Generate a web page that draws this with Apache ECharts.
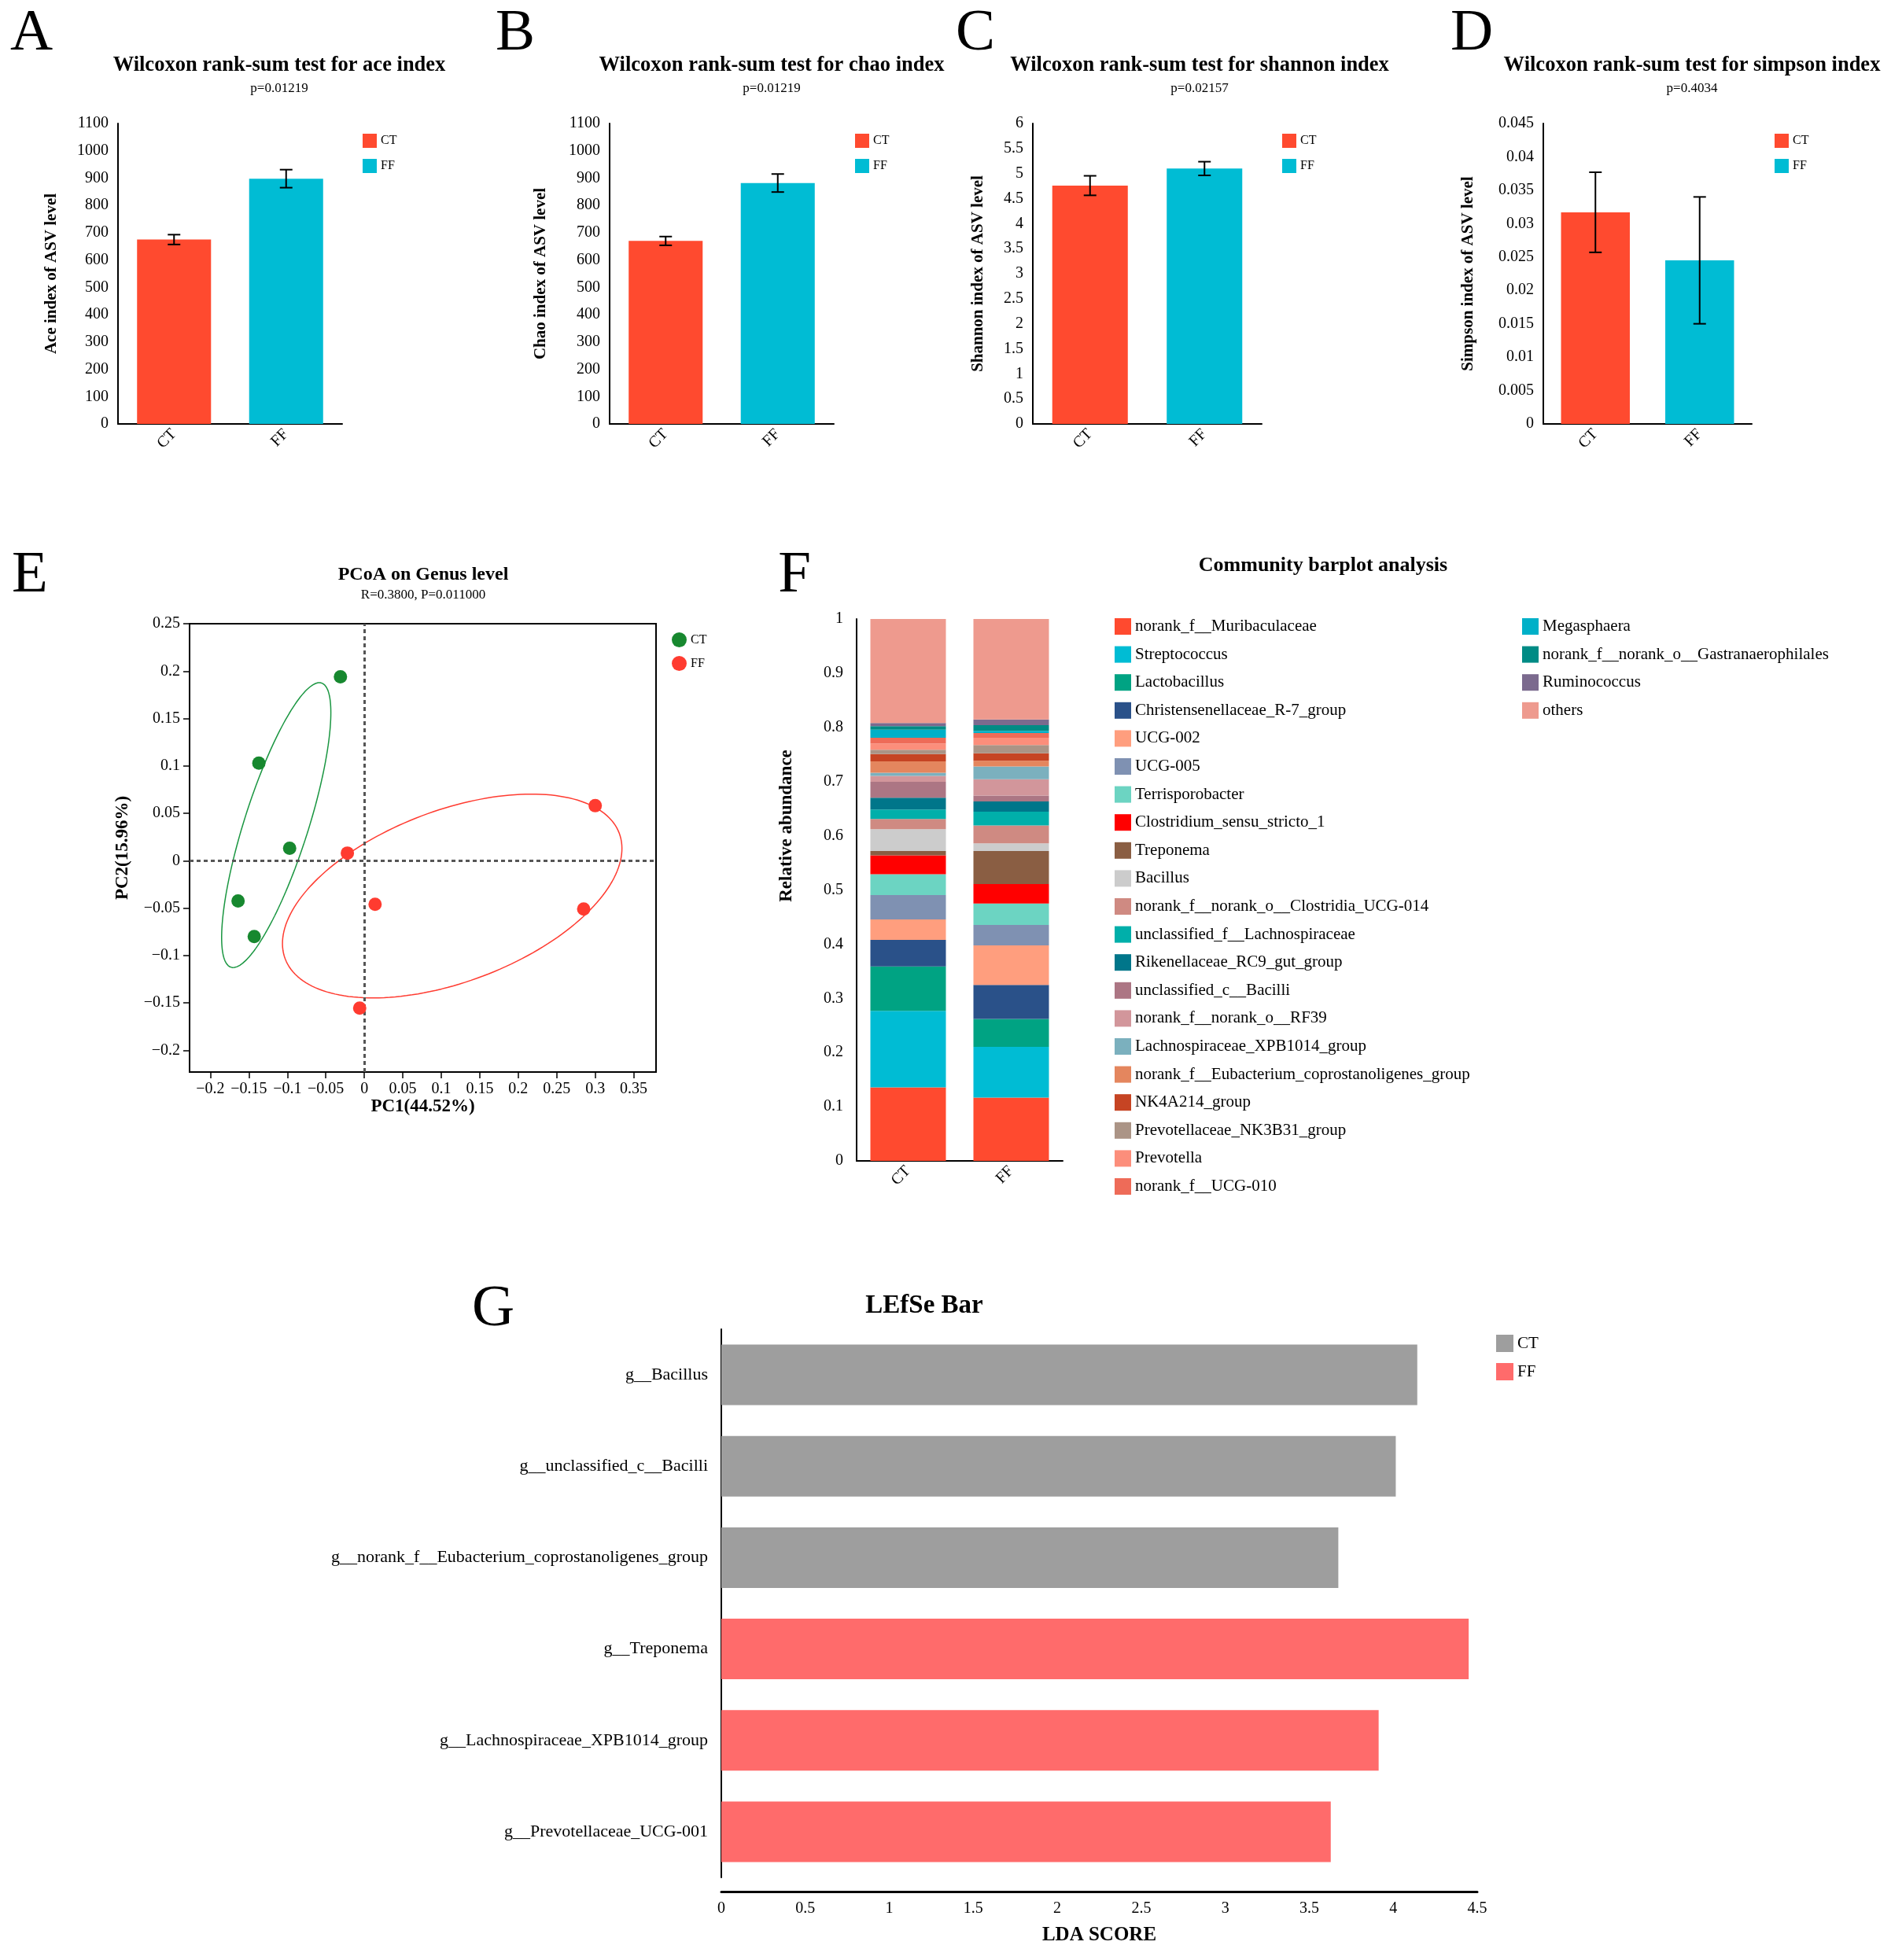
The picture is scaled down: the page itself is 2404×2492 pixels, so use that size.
<!DOCTYPE html>
<html>
<head>
<meta charset="utf-8">
<script src="https://cdn.jsdelivr.net/npm/echarts@6/dist/echarts.min.js"></script>
<style>
  html, body { margin: 0; padding: 0; background: #fff; }
  #main { width: 2404px; height: 2492px; }
</style>
</head>
<body>
<div id="main"></div>
<script>
// ---- data ----
var groups = ['CT', 'FF'];
var aceMean = [675, 898], aceErr = [18, 33];
var chaoMean = [670, 882], chaoErr = [16, 33];
var shannonMean = [4.76, 5.10], shannonErr = [0.195, 0.137];
var simpsonMean = [0.0317, 0.0245], simpsonErr = [0.006, 0.0095];
var pValues = ['p=0.01219', 'p=0.01219', 'p=0.02157', 'p=0.4034'];

var pcoaCT = [[-0.031, 0.194], [-0.137, 0.103], [-0.097, 0.013], [-0.164, -0.0425], [-0.143, -0.080]];
var pcoaFF = [[0.300, 0.058], [-0.022, 0.008], [0.014, -0.046], [0.285, -0.051], [-0.006, -0.1555]];
var pcoaXTicks = [-0.2, -0.15, -0.1, -0.05, 0, 0.05, 0.1, 0.15, 0.2, 0.25, 0.3, 0.35];
var pcoaYTicks = [-0.2, -0.15, -0.1, -0.05, 0, 0.05, 0.1, 0.15, 0.2, 0.25];

var genera = ['norank_f__Muribaculaceae', 'Streptococcus', 'Lactobacillus', 'Christensenellaceae_R-7_group',
  'UCG-002', 'UCG-005', 'Terrisporobacter', 'Clostridium_sensu_stricto_1', 'Treponema', 'Bacillus',
  'norank_f__norank_o__Clostridia_UCG-014', 'unclassified_f__Lachnospiraceae', 'Rikenellaceae_RC9_gut_group',
  'unclassified_c__Bacilli', 'norank_f__norank_o__RF39', 'Lachnospiraceae_XPB1014_group',
  'norank_f__Eubacterium_coprostanoligenes_group', 'NK4A214_group', 'Prevotellaceae_NK3B31_group',
  'Prevotella', 'norank_f__UCG-010', 'Megasphaera', 'norank_f__norank_o__Gastranaerophilales',
  'Ruminococcus', 'others'];
var genusColors = ['#FF4A2F', '#00BCD4', '#00A383', '#2A5189', '#FF9E7E', '#7F91B2', '#6CD4C2', '#FF0000',
  '#8A5E43', '#CCCCCC', '#CF8A82', '#00AFAA', '#00768A', '#AC7684', '#D2969B', '#7BB0BE', '#E4865E',
  '#C64423', '#AB9486', '#FC8E7B', '#EE6B58', '#00B0C8', '#008B85', '#7B6A8E', '#EE9A8E'];
var abundCT = [0.1356, 0.1412, 0.082, 0.0489, 0.0379, 0.0449, 0.0387, 0.0347, 0.0079, 0.0402, 0.0189, 0.0174,
  0.022, 0.0292, 0.0111, 0.0055, 0.0213, 0.0135, 0.0077, 0.0116, 0.0106, 0.015, 0.0063, 0.0058, 0.1921];
var abundFF = [0.1167, 0.0939, 0.0512, 0.0631, 0.0726, 0.0378, 0.0395, 0.0362, 0.0608, 0.0142, 0.0331, 0.0252,
  0.0189, 0.0111, 0.03, 0.0236, 0.0106, 0.0135, 0.0154, 0.0135, 0.0087, 0.0039, 0.0106, 0.0106, 0.1853];

var lefseNames = ['g__Bacillus', 'g__unclassified_c__Bacilli', 'g__norank_f__Eubacterium_coprostanoligenes_group',
  'g__Treponema', 'g__Lachnospiraceae_XPB1014_group', 'g__Prevotellaceae_UCG-001'];
var lefseScores = [4.143, 4.015, 3.673, 4.449, 3.913, 3.628];
var lefseGroup = ['CT', 'CT', 'CT', 'FF', 'FF', 'FF'];

// ---- style ----
var serif = "'Liberation Serif', 'Times New Roman', serif";
var ctColor = '#FF4A2F', ffColor = '#00BCD4';
var myChart = echarts.init(document.getElementById('main'));

function textEl(x, y, text, size, bold, rot) {
  return {
    type: 'text', x: x, y: y, rotation: rot || 0, silent: true,
    style: { text: text, fontSize: size, fontFamily: serif, fontWeight: bold ? 'bold' : 'normal',
      fill: '#000', align: 'center', verticalAlign: 'middle' }
  };
}

var axisLine2 = { show: true, onZero: false, lineStyle: { color: '#000', width: 2 } };

// 误差线
function renderErr(params, api) {
  var x = api.value(0);
  var top = api.coord([x, api.value(2)]);
  var bot = api.coord([x, api.value(1)]);
  var w = 8, st = { stroke: '#000', lineWidth: 2 };
  return {
    type: 'group', children: [
      { type: 'line', shape: { x1: top[0], y1: top[1], x2: bot[0], y2: bot[1] }, style: st },
      { type: 'line', shape: { x1: top[0] - w, y1: top[1], x2: top[0] + w, y2: top[1] }, style: st },
      { type: 'line', shape: { x1: bot[0] - w, y1: bot[1], x2: bot[0] + w, y2: bot[1] }, style: st }
    ]
  };
}

// 置信椭圆 (computed from the points)
function ellipse(pts, k) {
  var n = pts.length, mx = 0, my = 0;
  pts.forEach(function (p) { mx += p[0]; my += p[1]; });
  mx /= n; my /= n;
  var sxx = 0, syy = 0, sxy = 0;
  pts.forEach(function (p) {
    sxx += (p[0] - mx) * (p[0] - mx); syy += (p[1] - my) * (p[1] - my); sxy += (p[0] - mx) * (p[1] - my);
  });
  sxx /= n - 1; syy /= n - 1; sxy /= n - 1;
  var tr = (sxx + syy) / 2, d = Math.sqrt((sxx - syy) * (sxx - syy) / 4 + sxy * sxy);
  var a = k * Math.sqrt(tr + d), b = k * Math.sqrt(Math.max(tr - d, 0));
  var th = 0.5 * Math.atan2(2 * sxy, sxx - syy);
  var out = [];
  for (var i = 0; i <= 180; i++) {
    var t = i / 180 * 2 * Math.PI;
    out.push([mx + a * Math.cos(t) * Math.cos(th) - b * Math.sin(t) * Math.sin(th),
      my + a * Math.cos(t) * Math.sin(th) + b * Math.sin(t) * Math.cos(th)]);
  }
  return out;
}

var grids = [], xAxes = [], yAxes = [], series = [], legends = [], graphics = [];

// ---- A-D ----
var alpha = [
  { mean: aceMean, err: aceErr, max: 1100, step: 100, name: 'Ace index of ASV level', left: 150, width: 285, gap: 74, leg: 456, tx: 355, title: 'Wilcoxon rank-sum test for ace index', letter: 'A', lx: 40 },
  { mean: chaoMean, err: chaoErr, max: 1100, step: 100, name: 'Chao index of ASV level', left: 775, width: 285, gap: 77, leg: 1082, tx: 981, title: 'Wilcoxon rank-sum test for chao index', letter: 'B', lx: 655 },
  { mean: shannonMean, err: shannonErr, max: 6, step: 0.5, name: 'Shannon index of ASV level', left: 1313, width: 291, gap: 59, leg: 1625, tx: 1525, title: 'Wilcoxon rank-sum test for shannon index', letter: 'C', lx: 1240 },
  { mean: simpsonMean, err: simpsonErr, max: 0.045, step: 0.005, name: 'Simpson index of ASV level', left: 1962, width: 265, gap: 85, leg: 2251, tx: 2151, title: 'Wilcoxon rank-sum test for simpson index', letter: 'D', lx: 1871 }
];

alpha.forEach(function (p, i) {
  grids.push({ left: p.left, top: 157, width: p.width, height: 382, outerBoundsMode: 'none' });
  xAxes.push({
    gridIndex: i, type: 'category', data: groups,
    axisLine: axisLine2, axisTick: { alignWithLabel: true, length: 10, lineStyle: { color: '#000', width: 2 } },
    axisLabel: { rotate: 45, fontSize: 20, fontFamily: serif, color: '#000', margin: 10 }
  });
  yAxes.push({
    gridIndex: i, type: 'value', min: 0, max: p.max, interval: p.step,
    name: p.name, nameLocation: 'middle', nameGap: p.gap,
    nameTextStyle: { fontSize: 21, fontWeight: 'bold', fontFamily: serif, color: '#000' },
    axisLine: axisLine2, axisTick: { length: 8, lineStyle: { color: '#000', width: 1.5 } },
    axisLabel: { fontSize: 20, fontFamily: serif, color: '#000', margin: 12, formatter: function (v) { return String(v); } },
    splitLine: { show: false }
  });
  series.push({
    name: 'CT', type: 'bar', xAxisIndex: i, yAxisIndex: i, barWidth: '66%', barGap: '-100%',
    itemStyle: { color: ctColor }, data: [p.mean[0], '-']
  });
  series.push({
    name: 'FF', type: 'bar', xAxisIndex: i, yAxisIndex: i, barWidth: '66%', barGap: '-100%',
    itemStyle: { color: ffColor }, data: ['-', p.mean[1]]
  });
  series.push({
    type: 'custom', xAxisIndex: i, yAxisIndex: i, z: 10, renderItem: renderErr,
    encode: { x: 0, y: [1, 2] },
    data: groups.map(function (g, j) { return [j, p.mean[j] - p.err[j], p.mean[j] + p.err[j]]; })
  });
  legends.push({
    left: p.leg, top: 165, orient: 'vertical', itemWidth: 18, itemHeight: 18, itemGap: 14,
    textStyle: { fontSize: 16, fontFamily: serif, color: '#000' },
    data: [{ name: 'CT', icon: 'rect', itemStyle: { color: ctColor } }, { name: 'FF', icon: 'rect', itemStyle: { color: ffColor } }]
  });
  graphics.push(textEl(p.lx, 43, p.letter, 75, false));
  graphics.push(textEl(p.tx, 83, p.title, 26.5, true));
  graphics.push(textEl(p.tx, 113, pValues[i], 17, false));
});

// ---- E: PCoA ----
var tickFmt = function (v) { return String(+v.toFixed(2)).replace('-', '\u2212'); };
grids.push({ left: 241, top: 793, width: 593, height: 570, show: true, borderColor: '#000', borderWidth: 2, outerBoundsMode: 'none' });
xAxes.push({
  gridIndex: 4, type: 'value', min: -0.227, max: 0.379,
  name: 'PC1(44.52%)', nameLocation: 'middle', nameGap: 33,
  nameTextStyle: { fontSize: 23, fontWeight: 'bold', fontFamily: serif, color: '#000' },
  axisLine: axisLine2, axisTick: { length: 8, customValues: pcoaXTicks, lineStyle: { color: '#000', width: 1.5 } },
  axisLabel: { customValues: pcoaXTicks, formatter: tickFmt, fontSize: 20, fontFamily: serif, color: '#000', margin: 12 },
  splitLine: { show: false }
});
yAxes.push({
  gridIndex: 4, type: 'value', min: -0.223, max: 0.25,
  name: 'PC2(15.96%)', nameLocation: 'middle', nameGap: 73,
  nameTextStyle: { fontSize: 23, fontWeight: 'bold', fontFamily: serif, color: '#000' },
  axisLine: axisLine2, axisTick: { length: 8, customValues: pcoaYTicks, lineStyle: { color: '#000', width: 1.5 } },
  axisLabel: { customValues: pcoaYTicks, formatter: tickFmt, fontSize: 20, fontFamily: serif, color: '#000', margin: 12 },
  splitLine: { show: false }
});
series.push({
  type: 'line', xAxisIndex: 4, yAxisIndex: 4, data: ellipse(pcoaCT, 1.35), showSymbol: false, symbol: 'none',
  silent: true, lineStyle: { color: '#1A9641', width: 1.5 }, z: 2
});
series.push({
  type: 'line', xAxisIndex: 4, yAxisIndex: 4, data: ellipse(pcoaFF, 1.35), showSymbol: false, symbol: 'none',
  silent: true, lineStyle: { color: '#FF3B30', width: 1.5 }, z: 2
});
series.push({
  name: 'CT', type: 'scatter', xAxisIndex: 4, yAxisIndex: 4, symbolSize: 17, data: pcoaCT,
  itemStyle: { color: '#17882F', opacity: 1 }, z: 5,
  markLine: {
    silent: true, symbol: ['none', 'none'], label: { show: false },
    lineStyle: { color: '#555', type: [5, 4], width: 3 },
    data: [{ xAxis: 0 }, { yAxis: 0 }]
  }
});
series.push({
  name: 'FF', type: 'scatter', xAxisIndex: 4, yAxisIndex: 4, symbolSize: 17, data: pcoaFF,
  itemStyle: { color: '#FF3B30', opacity: 1 }, z: 5
});
legends.push({
  left: 849, top: 799, orient: 'vertical', itemWidth: 19, itemHeight: 19, itemGap: 11,
  textStyle: { fontSize: 16, fontFamily: serif, color: '#000' },
  data: [{ name: 'CT', icon: 'circle', itemStyle: { color: '#17882F' } }, { name: 'FF', icon: 'circle', itemStyle: { color: '#FF3B30' } }]
});
graphics.push(textEl(38, 732, 'E', 75, false));
graphics.push(textEl(538, 731, 'PCoA on Genus level', 24, true));
graphics.push(textEl(538, 757, 'R=0.3800, P=0.011000', 17, false));

// ---- F: community barplot ----
grids.push({ left: 1089, top: 787, width: 262, height: 689, outerBoundsMode: 'none' });
xAxes.push({
  gridIndex: 5, type: 'category', data: groups,
  axisLine: axisLine2, axisTick: { alignWithLabel: true, length: 9, lineStyle: { color: '#000', width: 2 } },
  axisLabel: { rotate: 45, fontSize: 20, fontFamily: serif, color: '#000', margin: 10 }
});
yAxes.push({
  gridIndex: 5, type: 'value', min: 0, max: 1, interval: 0.1,
  axisLine: axisLine2, axisTick: { length: 8, lineStyle: { color: '#000', width: 1.5 } },
  axisLabel: { fontSize: 20, fontFamily: serif, color: '#000', margin: 17 },
  splitLine: { show: false }
});
genera.forEach(function (g, k) {
  series.push({
    name: g, type: 'bar', stack: 'abund', xAxisIndex: 5, yAxisIndex: 5, barWidth: 96,
    itemStyle: { color: genusColors[k] }, data: [abundCT[k], abundFF[k]]
  });
});
var legStyle = { fontSize: 21, fontFamily: serif, color: '#000' };
legends.push({
  left: 1412, top: 781, orient: 'vertical', icon: 'rect', itemWidth: 21, itemHeight: 21, itemGap: 14.6,
  textStyle: legStyle, data: genera.slice(0, 21)
});
legends.push({
  left: 1930, top: 781, orient: 'vertical', icon: 'rect', itemWidth: 21, itemHeight: 21, itemGap: 14.6,
  textStyle: legStyle, data: genera.slice(21)
});
graphics.push(textEl(1010, 732, 'F', 75, false));
graphics.push(textEl(1682, 719, 'Community barplot analysis', 26, true));
graphics.push(textEl(1000, 1050, 'Relative abundance', 23, true, Math.PI / 2));

// ---- G: LEfSe ----
grids.push({ left: 917, top: 1690, width: 961, height: 697, outerBoundsMode: 'none' });
xAxes.push({
  gridIndex: 6, type: 'value', min: 0, max: 4.5, interval: 0.5, offset: 18,
  name: 'LDA SCORE', nameLocation: 'middle', nameGap: 43,
  nameTextStyle: { fontSize: 25, fontWeight: 'bold', fontFamily: serif, color: '#000' },
  axisLine: { show: true, lineStyle: { color: '#000', width: 3 } },
  axisTick: { inside: true, length: 9, lineStyle: { color: '#000', width: 1.5 } },
  axisLabel: { fontSize: 20, fontFamily: serif, color: '#000', margin: 12 },
  splitLine: { show: false }
});
yAxes.push({
  gridIndex: 6, type: 'category', data: lefseNames, inverse: true,
  axisLine: { show: true, lineStyle: { color: '#000', width: 2 } }, axisTick: { show: false },
  axisLabel: { fontSize: 22, fontFamily: serif, color: '#000', margin: 17 }
});
['CT', 'FF'].forEach(function (g) {
  series.push({
    name: g, type: 'bar', xAxisIndex: 6, yAxisIndex: 6, barWidth: 77, barGap: '-100%',
    itemStyle: { color: g === 'CT' ? '#9E9E9E' : '#FF6B6B' },
    data: lefseScores.map(function (v, k) { return lefseGroup[k] === g ? v : '-'; })
  });
});
legends.push({
  left: 1897, top: 1692, orient: 'vertical', itemWidth: 22, itemHeight: 22, itemGap: 14,
  textStyle: { fontSize: 21, fontFamily: serif, color: '#000' },
  data: [{ name: 'CT', icon: 'rect', itemStyle: { color: '#9E9E9E' } }, { name: 'FF', icon: 'rect', itemStyle: { color: '#FF6B6B' } }]
});
graphics.push(textEl(627, 1665, 'G', 75, false));
graphics.push(textEl(1175, 1660, 'LEfSe Bar', 33, true));

var option = {
  backgroundColor: '#fff',
  animation: false,
  grid: grids,
  xAxis: xAxes,
  yAxis: yAxes,
  legend: legends,
  series: series,
  graphic: graphics
};
myChart.setOption(option);
</script>
</body>
</html>
